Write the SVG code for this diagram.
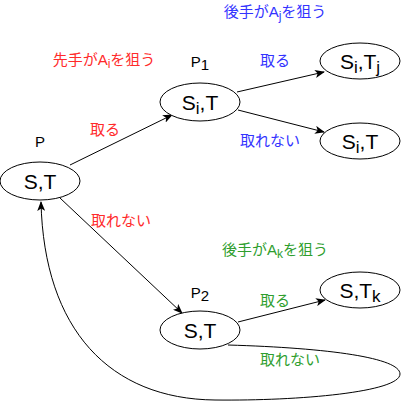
<svg xmlns="http://www.w3.org/2000/svg" width="401" height="402" viewBox="0 0 401 402">
<defs>
<marker id="arr" markerWidth="10" markerHeight="8" refX="9" refY="4" orient="auto" markerUnits="userSpaceOnUse">
<path d="M0,0 L10,4 L0,8 L2.5,4 Z" fill="#000"/>
</marker>
<style>
.node ellipse{fill:#fff;stroke:#000;stroke-width:1}
.nt{font-family:"Liberation Sans","Noto Sans CJK JP",sans-serif;font-size:21px;fill:#000;text-anchor:middle}
.lbl{font-family:"Liberation Sans","Noto Sans CJK JP",sans-serif;font-size:15px;text-anchor:middle}
.red{fill:#FF2A2A}
.blue{fill:#3333FF}
.green{fill:#2E9E2E}
.blk{fill:#000}
.edge{fill:none;stroke:#000;stroke-width:1;marker-end:url(#arr)}
</style>
</defs>
<rect width="401" height="402" fill="#fff"/>
<g id="connectors">
<path class="edge" d="M70,165 L172,115"/>
<path class="edge" d="M237,92 L324,72"/>
<path class="edge" d="M238,110 L324,132"/>
<path class="edge" d="M60,198 L182,313"/>
<path class="edge" d="M238,322 L325,300"/>
<path class="edge" d="M228,345 C330,348 400,358 400,374 C400,392 300,401 215,400 C110,399 44,330 41,202"/>
</g>
<g id="node-P" class="node">
<ellipse cx="40" cy="181" rx="40" ry="19"/>
<text class="nt" x="40" y="189">S,T</text>
</g>
<g id="node-P1" class="node">
<ellipse cx="200" cy="102" rx="40" ry="19"/>
<text class="nt" x="200" y="110">S<tspan font-size="17" dy="4">i</tspan><tspan dy="-4">,T</tspan></text>
</g>
<g id="node-SiTj" class="node">
<ellipse cx="360" cy="61" rx="40" ry="18"/>
<text class="nt" x="360" y="69">S<tspan font-size="17" dy="4">i</tspan><tspan dy="-4">,T</tspan><tspan font-size="17" dy="4">j</tspan></text>
</g>
<g id="node-SiT" class="node">
<ellipse cx="360" cy="141" rx="40" ry="18"/>
<text class="nt" x="360" y="149">S<tspan font-size="17" dy="4">i</tspan><tspan dy="-4">,T</tspan></text>
</g>
<g id="node-P2" class="node">
<ellipse cx="200" cy="330" rx="40" ry="19"/>
<text class="nt" x="200" y="338">S,T</text>
</g>
<g id="node-STk" class="node">
<ellipse cx="360" cy="290" rx="40" ry="18"/>
<text class="nt" x="360" y="298">S,T<tspan font-size="17" dy="4">k</tspan></text>
</g>
<g id="labels">
<text class="lbl blk" x="40" y="147" font-size="14">P</text>
<text class="lbl blk" x="200" y="67" font-size="14">P<tspan dy="3">1</tspan></text>
<text class="lbl blk" x="200" y="298" font-size="14">P<tspan dy="3">2</tspan></text>
<text class="lbl red" x="104" y="65">先手がA<tspan font-size="12" dy="3">i</tspan><tspan dy="-3">を狙う</tspan></text>
<text class="lbl red" x="105" y="135">取る</text>
<text class="lbl red" x="121" y="226">取れない</text>
<text class="lbl blue" x="275" y="17">後手がA<tspan font-size="12" dy="3">j</tspan><tspan dy="-3">を狙う</tspan></text>
<text class="lbl blue" x="275" y="66">取る</text>
<text class="lbl blue" x="270" y="146">取れない</text>
<text class="lbl green" x="275" y="255">後手がA<tspan font-size="12" dy="3">k</tspan><tspan dy="-3">を狙う</tspan></text>
<text class="lbl green" x="275" y="306">取る</text>
<text class="lbl green" x="290" y="365">取れない</text>
</g>
</svg>
